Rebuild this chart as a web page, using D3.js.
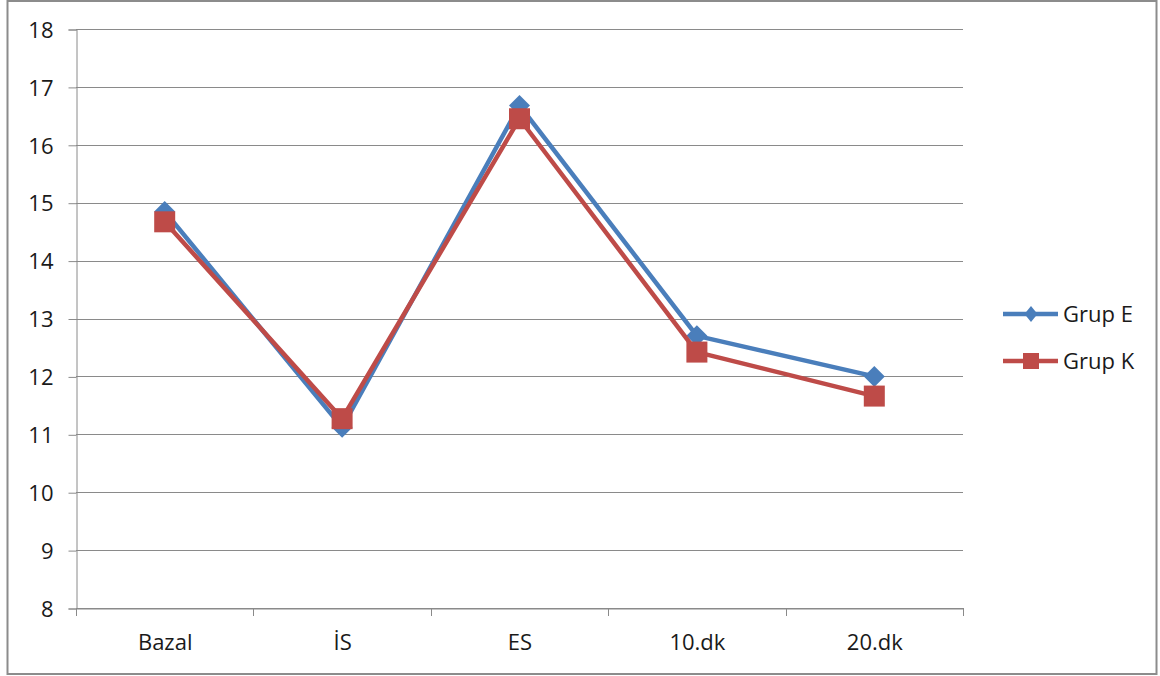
<!DOCTYPE html>
<html>
<head>
<meta charset="utf-8">
<script src="https://cdn.jsdelivr.net/npm/d3@7"></script>
<style>
  body { margin: 0; background: #fff; }
  text { font-family: "Open Sans", "Noto Sans", sans-serif; fill: #1a1a1a; }
</style>
</head>
<body>
<div id="chart"></div>
<script>
// chart data
const categories = ["Bazal", "İS", "ES", "10.dk", "20.dk"];
const grupE = [14.85, 11.12, 16.68, 12.7, 12.0];
const grupK = [14.67, 11.27, 16.45, 12.42, 11.66];
const yTicks = [8, 9, 10, 11, 12, 13, 14, 15, 16, 17, 18];
const seriesNames = ["Grup E", "Grup K"];

const W = 1160, H = 676;
const colors = ["#4a7ebb", "#be4b48"];

const svg = d3.select("#chart").append("svg")
    .attr("width", W).attr("height", H);

// outer frame
svg.append("rect").attr("x", 7.5).attr("y", 1).attr("width", 1149).attr("height", 673)
    .attr("fill", "#fff").attr("stroke", "#8c8c8c").attr("stroke-width", 2);

// plot area
const pLeft = 76, pRight = 963, pTop = 29, pBottom = 608;
const x = d3.scaleBand().domain(categories).range([pLeft, pRight]);
const y = d3.scaleLinear().domain([8, 18]).range([pBottom, pTop]);

// gridlines
svg.append("g").selectAll("line").data(yTicks).join("line")
    .attr("x1", pLeft).attr("x2", pRight)
    .attr("y1", d => Math.round(y(d)) + 0.5).attr("y2", d => Math.round(y(d)) + 0.5)
    .attr("stroke", "#8a8a8a").attr("stroke-width", 1);

// y axis
const yAxis = svg.append("g").attr("transform", `translate(${pLeft + 0.5},0.5)`)
    .call(d3.axisLeft(y).tickValues(yTicks).tickSize(8).tickPadding(15));
yAxis.selectAll("line, path").attr("stroke", "#8a8a8a");
yAxis.selectAll("text").style("font-size", "22px").attr("dy", "0.35em");

// x axis
const xAxis = svg.append("g").attr("transform", `translate(0.5,${pBottom + 0.5})`)
    .call(d3.axisBottom(x).tickSize(0).tickPadding(26));
xAxis.select("path").attr("stroke", "#8a8a8a");
xAxis.selectAll("text").style("font-size", "22px");
// tick marks between categories
svg.append("g").selectAll("line").data(d3.range(categories.length + 1)).join("line")
    .attr("x1", i => Math.round(pLeft + i * x.bandwidth()) + 0.5)
    .attr("x2", i => Math.round(pLeft + i * x.bandwidth()) + 0.5)
    .attr("y1", pBottom).attr("y2", pBottom + 8)
    .attr("stroke", "#8a8a8a");

const line = d3.line().x((d, i) => x(categories[i]) + x.bandwidth() / 2).y(d => y(d));

const diamond = s => `M0,${-s}L${s},0L0,${s}L${-s},0Z`;

// series
[grupE, grupK].forEach((vals, k) => {
    svg.append("path").datum(vals).attr("d", line)
        .attr("fill", "none").attr("stroke", colors[k]).attr("stroke-width", 4.5)
        .attr("stroke-linejoin", "round");
    const g = svg.append("g");
    vals.forEach((v, i) => {
        const cx = x(categories[i]) + x.bandwidth() / 2, cy = y(v);
        if (k === 0) {
            g.append("path").attr("d", diamond(10.5)).attr("transform", `translate(${cx},${cy})`)
                .attr("fill", colors[k]);
        } else {
            g.append("rect").attr("x", cx - 10.5).attr("y", cy - 10.5)
                .attr("width", 21).attr("height", 21).attr("fill", colors[k]);
        }
    });
});

// legend
const legY = [314, 361];
seriesNames.forEach((name, k) => {
    const g = svg.append("g").attr("transform", `translate(0,${legY[k]})`);
    g.append("line").attr("x1", 1003).attr("x2", 1058).attr("y1", 0).attr("y2", 0)
        .attr("stroke", colors[k]).attr("stroke-width", 4.5);
    if (k === 0) {
        g.append("path").attr("d", "M0,-8L6.5,0L0,8L-6.5,0Z").attr("transform", "translate(1031,0)")
            .attr("fill", colors[k]);
    } else {
        g.append("rect").attr("x", 1023).attr("y", -8).attr("width", 16).attr("height", 16)
            .attr("fill", colors[k]);
    }
    g.append("text").attr("x", 1063).attr("y", 0).attr("dy", "0.35em")
        .style("font-size", "22px").text(name);
});
</script>
</body>
</html>
